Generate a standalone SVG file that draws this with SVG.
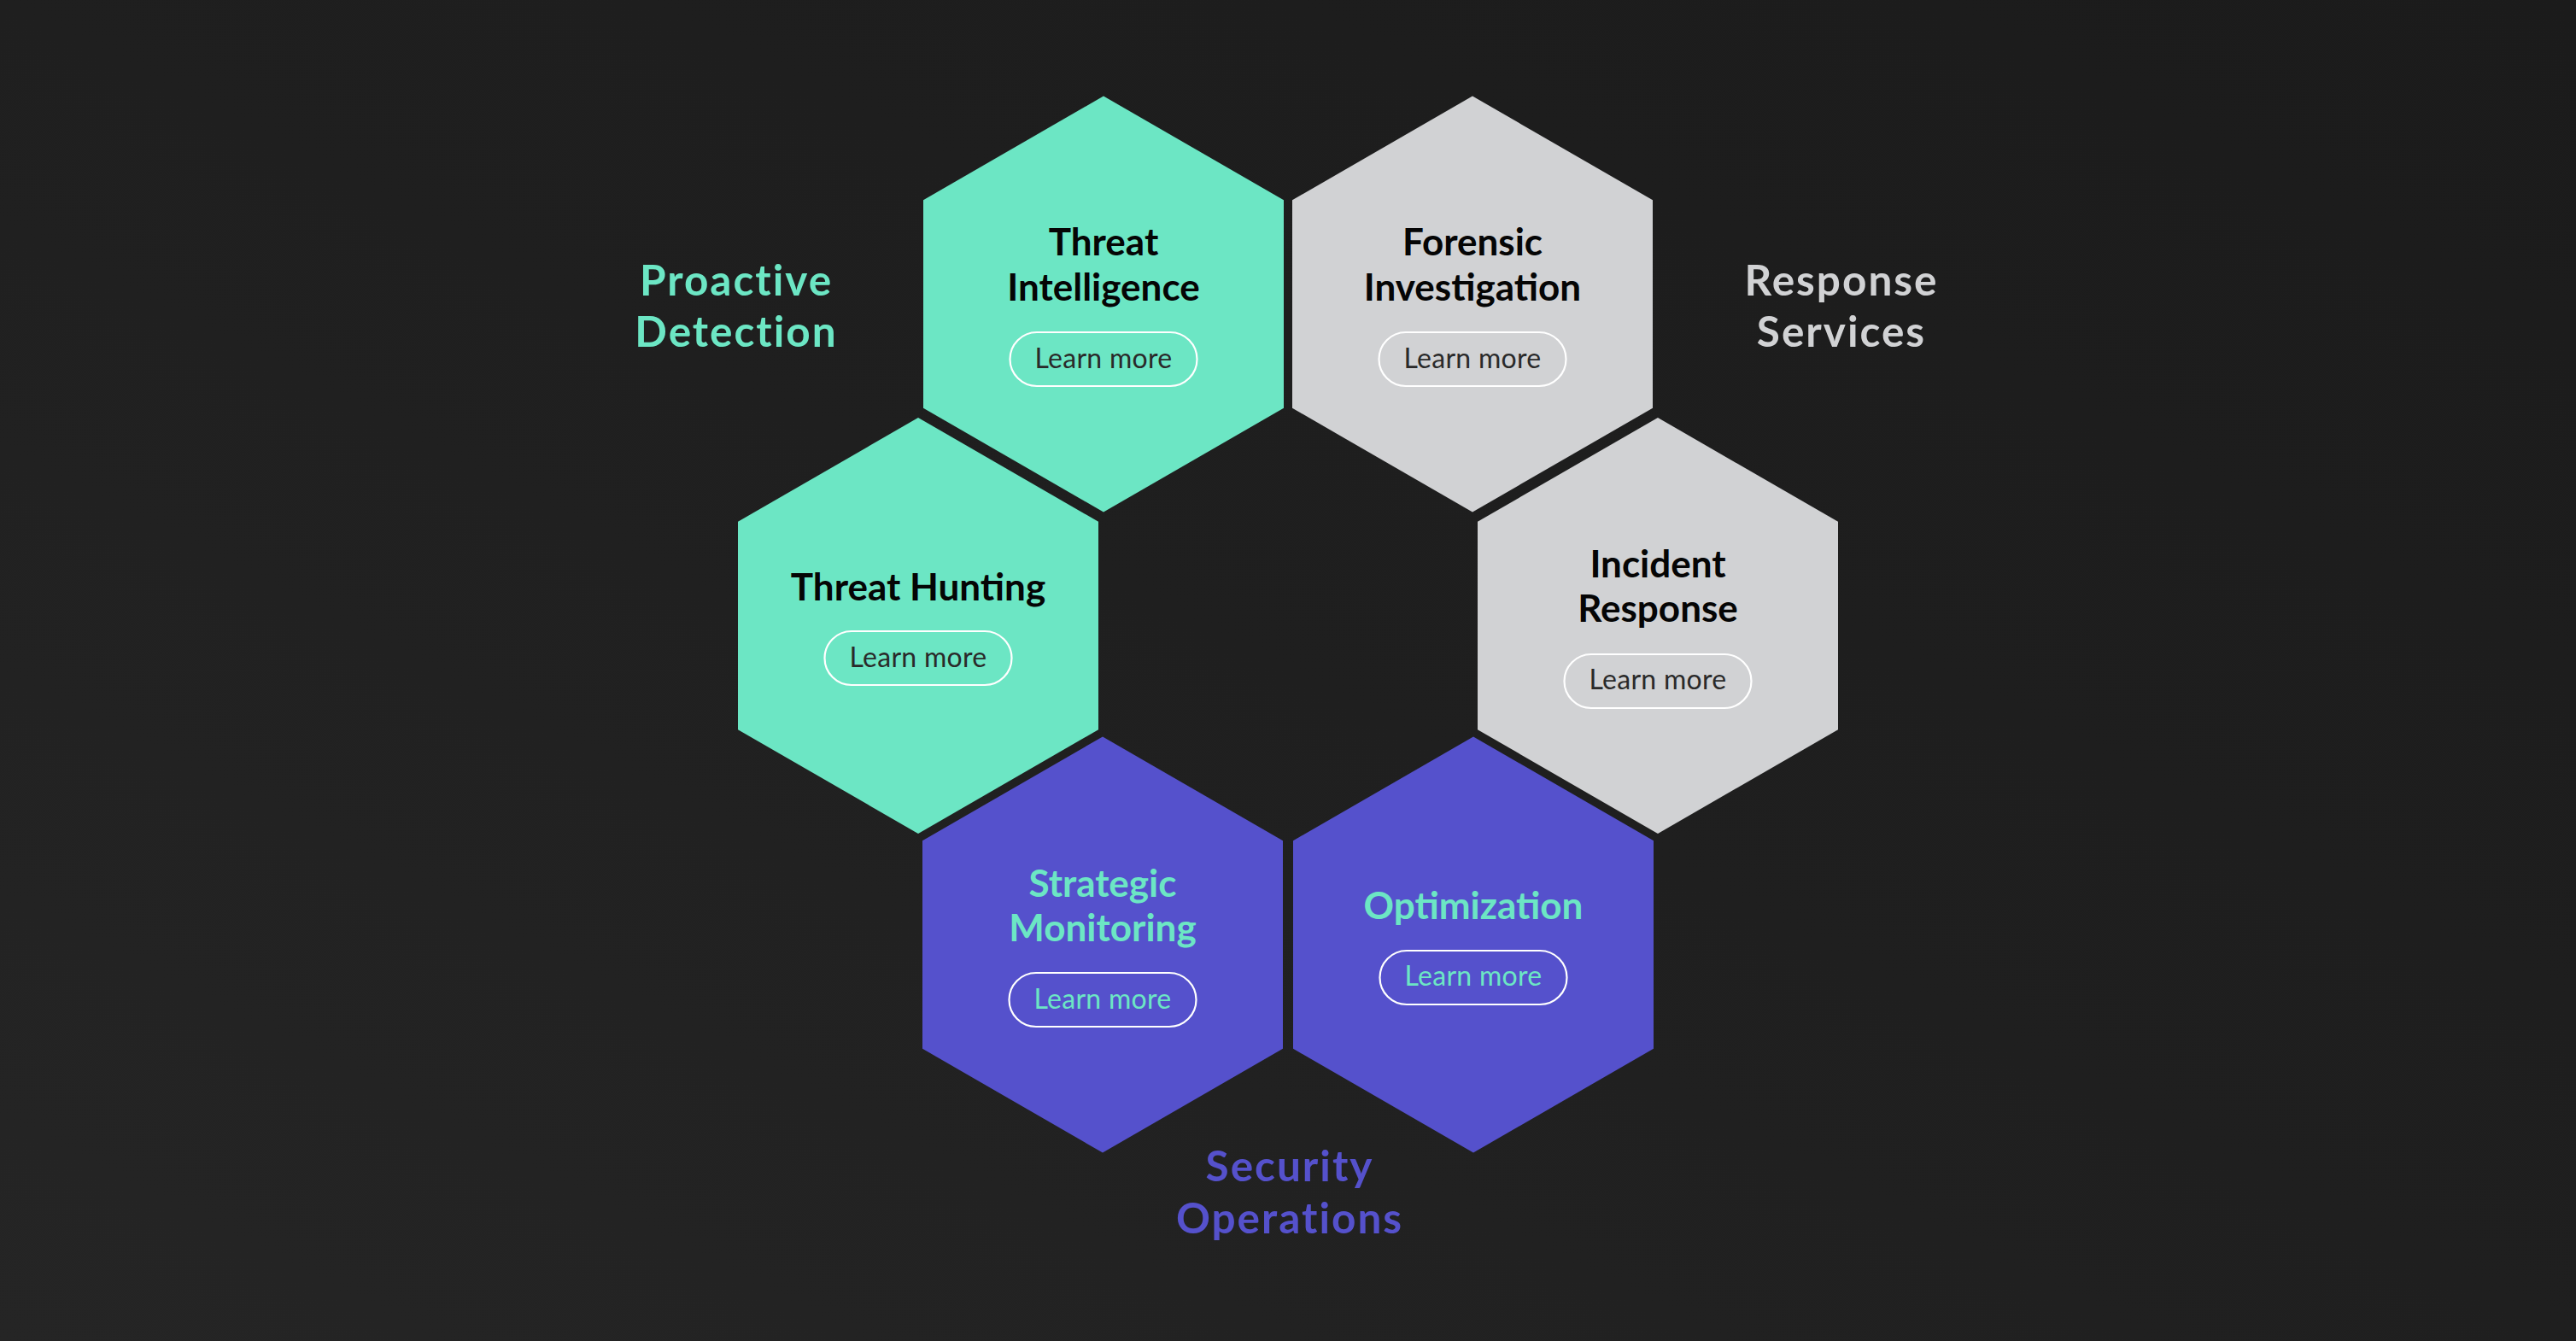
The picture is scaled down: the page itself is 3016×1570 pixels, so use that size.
<svg xmlns="http://www.w3.org/2000/svg" width="3016" height="1570" viewBox="0 0 3016 1570">
  <defs>
    <linearGradient id="bg" x1="0" y1="1" x2="1" y2="0">
      <stop offset="0" stop-color="#252525"/>
      <stop offset="0.5" stop-color="#1f1f1f"/>
      <stop offset="1" stop-color="#1b1b1b"/>
    </linearGradient>
    <polygon id="hex" points="0,-243.5 211,-121.75 211,121.75 0,243.5 -211,121.75 -211,-121.75"/>
    <rect id="pill" x="-109.5" y="0" width="219" height="63" rx="31.5" ry="31.5"/>
  </defs>
  <style>
    .title { font-family: Lato, "Noto Sans", sans-serif; font-weight: 700; font-size: 44px; text-anchor: middle; }
    .dark { fill: #050505; }
    .tealtxt { fill: #6ce6c4; }
    .btn { fill: none; stroke: #ffffff; stroke-width: 2.2; }
    .btntxt { font-family: Lato, "Noto Sans", sans-serif; font-weight: 400; font-size: 32px; letter-spacing: 0.3px; text-anchor: middle; }
    .btndark { fill: #2a2a2a; }
    .group { font-family: Lato, "Noto Sans", sans-serif; font-weight: 700; font-size: 49.5px; letter-spacing: 2px; text-anchor: middle; }
    .teal { fill: #6ce6c4; }
    .gray { fill: #d1d2d4; }
    .purple { fill: #5551cc; }
  </style>
  <rect x="0" y="0" width="3016" height="1570" fill="url(#bg)"/>

  <g id="connectors"/>

  <g id="label-proactive">
    <text class="group teal" x="862" y="346">Proactive</text>
    <text class="group teal" x="862" y="406">Detection</text>
  </g>
  <g id="label-response">
    <text class="group gray" x="2156" y="346">Response</text>
    <text class="group gray" x="2156" y="406">Services</text>
  </g>
  <g id="label-secops">
    <text class="group purple" x="1510" y="1383">Security</text>
    <text class="group purple" x="1510" y="1444">Operations</text>
  </g>

  <g id="threat-intelligence" transform="translate(1292,356)">
    <use href="#hex" class="teal"/>
    <text class="title dark" x="0" y="-57">Threat</text>
    <text class="title dark" x="0" y="-4.5">Intelligence</text>
    <use href="#pill" y="33" class="btn"/>
    <text class="btntxt btndark" x="0" y="75">Learn more</text>
  </g>

  <g id="forensic-investigation" transform="translate(1724,356)">
    <use href="#hex" class="gray"/>
    <text class="title dark" x="0" y="-57">Forensic</text>
    <text class="title dark" x="0" y="-4.5">Investigation</text>
    <use href="#pill" y="33" class="btn"/>
    <text class="btntxt btndark" x="0" y="75">Learn more</text>
  </g>

  <g id="threat-hunting" transform="translate(1075,732.5)">
    <use href="#hex" class="teal"/>
    <text class="title dark" x="0" y="-29.5">Threat Hunting</text>
    <use href="#pill" y="6.5" class="btn"/>
    <text class="btntxt btndark" x="0" y="48.5">Learn more</text>
  </g>

  <g id="incident-response" transform="translate(1941,732.5)">
    <use href="#hex" class="gray"/>
    <text class="title dark" x="0" y="-56.5">Incident</text>
    <text class="title dark" x="0" y="-4.5">Response</text>
    <use href="#pill" y="33.5" class="btn"/>
    <text class="btntxt btndark" x="0" y="74.5">Learn more</text>
  </g>

  <g id="strategic-monitoring" transform="translate(1291,1106)">
    <use href="#hex" class="purple"/>
    <text class="title tealtxt" x="0" y="-56">Strategic</text>
    <text class="title tealtxt" x="0" y="-4.5">Monitoring</text>
    <use href="#pill" y="33" class="btn"/>
    <text class="btntxt tealtxt" x="0" y="75">Learn more</text>
  </g>

  <g id="optimization" transform="translate(1725,1106)">
    <use href="#hex" class="purple"/>
    <text class="title tealtxt" x="0" y="-30">Optimization</text>
    <use href="#pill" y="7" class="btn"/>
    <text class="btntxt tealtxt" x="0" y="48">Learn more</text>
  </g>
</svg>
